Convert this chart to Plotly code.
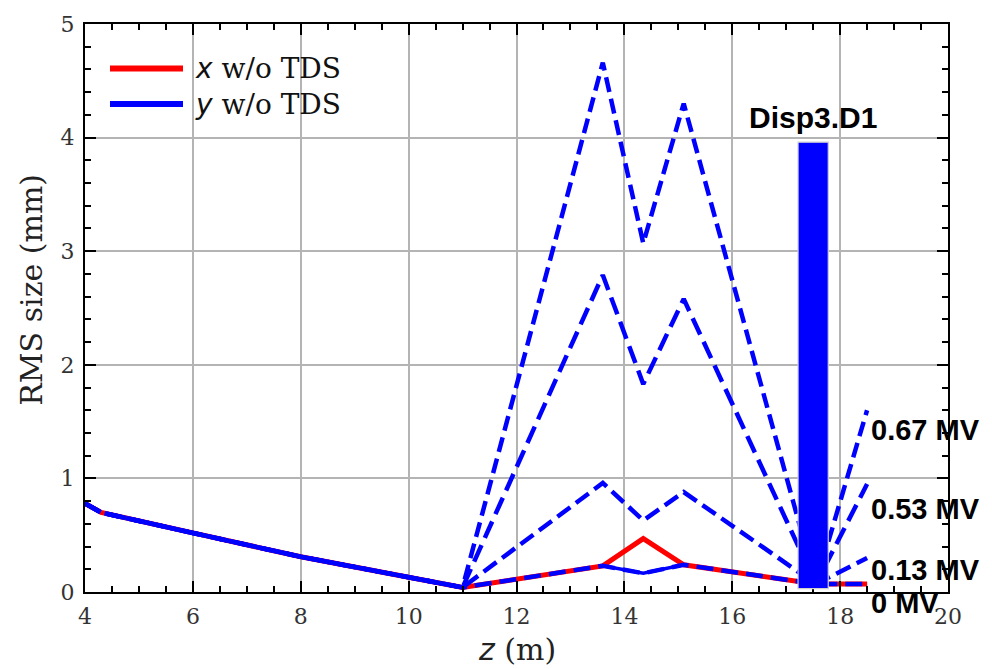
import plotly.graph_objects as go

# ---------------- data ----------------
z_m = [4.0, 4.3, 6.0, 8.0, 10.0, 11.0, 13.6, 14.35, 15.1, 17.55, 18.5]
x_rms = [0.78, 0.70, 0.52, 0.31, 0.13, 0.04, 0.23, 0.47, 0.24, 0.07, 0.07]
y_rms = [0.78, 0.70, 0.52, 0.31, 0.13, 0.04, 0.23, 0.165, 0.24, 0.07, 0.07]
y_013 = [0.78, 0.70, 0.52, 0.31, 0.13, 0.04, 0.96, 0.63, 0.88, 0.07, 0.30]
y_053 = [0.78, 0.70, 0.52, 0.31, 0.13, 0.04, 2.79, 1.83, 2.58, 0.07, 0.95]
y_067 = [0.78, 0.70, 0.52, 0.31, 0.13, 0.04, 4.66, 3.07, 4.30, 0.07, 1.60]

tds_labels = ["0 MV", "0.13 MV", "0.53 MV", "0.67 MV"]
label_y = [-0.10, 0.19, 0.73, 1.43]

screen_name = "Disp3.D1"
screen_z = 17.5
screen_width = 0.56
screen_bottom = 0.03
screen_top = 3.96

x_ticks = [4, 6, 8, 10, 12, 14, 16, 18, 20]
y_ticks = [0, 1, 2, 3, 4, 5]
X_RANGE = [4, 20]
Y_RANGE = [0, 5]

RED = "#ff0000"
BLUE = "#0000ff"
SERIF = "DejaVu Serif"
SANS_B = "Liberation Sans"

fig = go.Figure()

# solid lines
fig.add_trace(go.Scatter(x=z_m, y=y_rms, mode="lines", showlegend=False,
                         line=dict(color=BLUE, width=3.5)))
fig.add_trace(go.Scatter(x=z_m, y=x_rms, mode="lines", showlegend=False,
                         line=dict(color=RED, width=5)))
# dashed lines (with TDS)
dash_styles = ["17px,8px", "16px,7px", "18px,8px", "15px,7px"]
for ys, d in zip([y_rms, y_013, y_053, y_067], dash_styles):
    fig.add_trace(go.Scatter(x=z_m, y=ys, mode="lines", showlegend=False,
                             line=dict(color=BLUE, width=4.5, dash=d)))

# screen bar (drawn above lines)
fig.add_shape(type="rect", xref="x", yref="y", layer="above",
              x0=screen_z - screen_width / 2, x1=screen_z + screen_width / 2,
              y0=screen_bottom, y1=screen_top,
              fillcolor=BLUE, line=dict(color="#d0d0d0", width=1.2))
fig.add_annotation(x=screen_z, y=screen_top, xref="x", yref="y",
                   text="<b>" + screen_name + "</b>", showarrow=False,
                   xanchor="center", yanchor="bottom", yshift=6,
                   font=dict(family=SANS_B, size=30, color="black"))

# voltage labels (paper coords so labels below 0 are not hidden)
def data_to_paper_x(v):
    return (v - X_RANGE[0]) / (X_RANGE[1] - X_RANGE[0])
def data_to_paper_y(v):
    return (v - Y_RANGE[0]) / (Y_RANGE[1] - Y_RANGE[0])

for lab, ly in zip(tds_labels, label_y):
    fig.add_annotation(x=data_to_paper_x(z_m[-1]), y=data_to_paper_y(ly),
                       xref="paper", yref="paper",
                       text="<b>" + lab + "</b>", showarrow=False,
                       xanchor="left", yanchor="middle", xshift=2,
                       font=dict(family=SANS_B, size=29, color="black"))

# manual legend
PW, PH, L, T = 863.0, 575.0, 85.0, 17.0
def px_x(p):
    return (p - L) / PW
def px_y(p):
    return (T + PH - p) / PH

for txt, col, ypix in [("x", RED, 62), ("y", BLUE, 98)]:
    fig.add_shape(type="line", xref="paper", yref="paper",
                  x0=px_x(110), x1=px_x(183), y0=px_y(ypix), y1=px_y(ypix),
                  line=dict(color=col, width=6))
    fig.add_annotation(xref="paper", yref="paper", x=px_x(193), y=px_y(ypix),
                       text="<span style='font-family:DejaVu Sans;font-style:italic'>"
                            + txt + "</span> w/o TDS",
                       showarrow=False, xanchor="left", yanchor="middle",
                       font=dict(family=SERIF, size=28, color="#111"))

# axis titles
fig.add_annotation(xref="paper", yref="paper", x=px_x(32), y=px_y(286),
                   text="RMS size (mm)", textangle=-90, showarrow=False,
                   xanchor="center", yanchor="middle",
                   font=dict(family=SERIF, size=30, color="#222"))
fig.add_annotation(xref="paper", yref="paper", x=0.5, y=px_y(650),
                   text="<span style='font-family:DejaVu Sans;font-style:italic'>z</span> (m)",
                   showarrow=False, xanchor="center", yanchor="middle",
                   font=dict(family=SERIF, size=30, color="#222"))

axis_common = dict(
    showline=True, linecolor="black", linewidth=2, mirror="allticks",
    ticks="inside", ticklen=11, tickwidth=2, tickcolor="black",
    showgrid=True, gridcolor="#b4b4b4", gridwidth=1.5, zeroline=False,
    tickfont=dict(family=SERIF, size=22, color="#333"),
)

fig.update_xaxes(range=X_RANGE, tickvals=x_ticks, ticktext=[str(v) for v in x_ticks],
                 ticklabelstandoff=4,
                 minor=dict(dtick=0.5, tick0=4, ticks="inside", ticklen=6,
                            tickwidth=1.5, tickcolor="black", showgrid=False),
                 **axis_common)
fig.update_yaxes(range=Y_RANGE, tickvals=y_ticks, ticktext=[str(v) for v in y_ticks],
                 ticklabelstandoff=4,
                 minor=dict(dtick=0.2, tick0=0, ticks="inside", ticklen=6,
                            tickwidth=1.5, tickcolor="black", showgrid=False),
                 **axis_common)

fig.update_layout(
    width=992, height=669, autosize=False,
    margin=dict(l=85, r=44, t=17, b=77),
    paper_bgcolor="white", plot_bgcolor="white",
    showlegend=False,
)

fig.write_html("out.html", config={"displayModeBar": False})
